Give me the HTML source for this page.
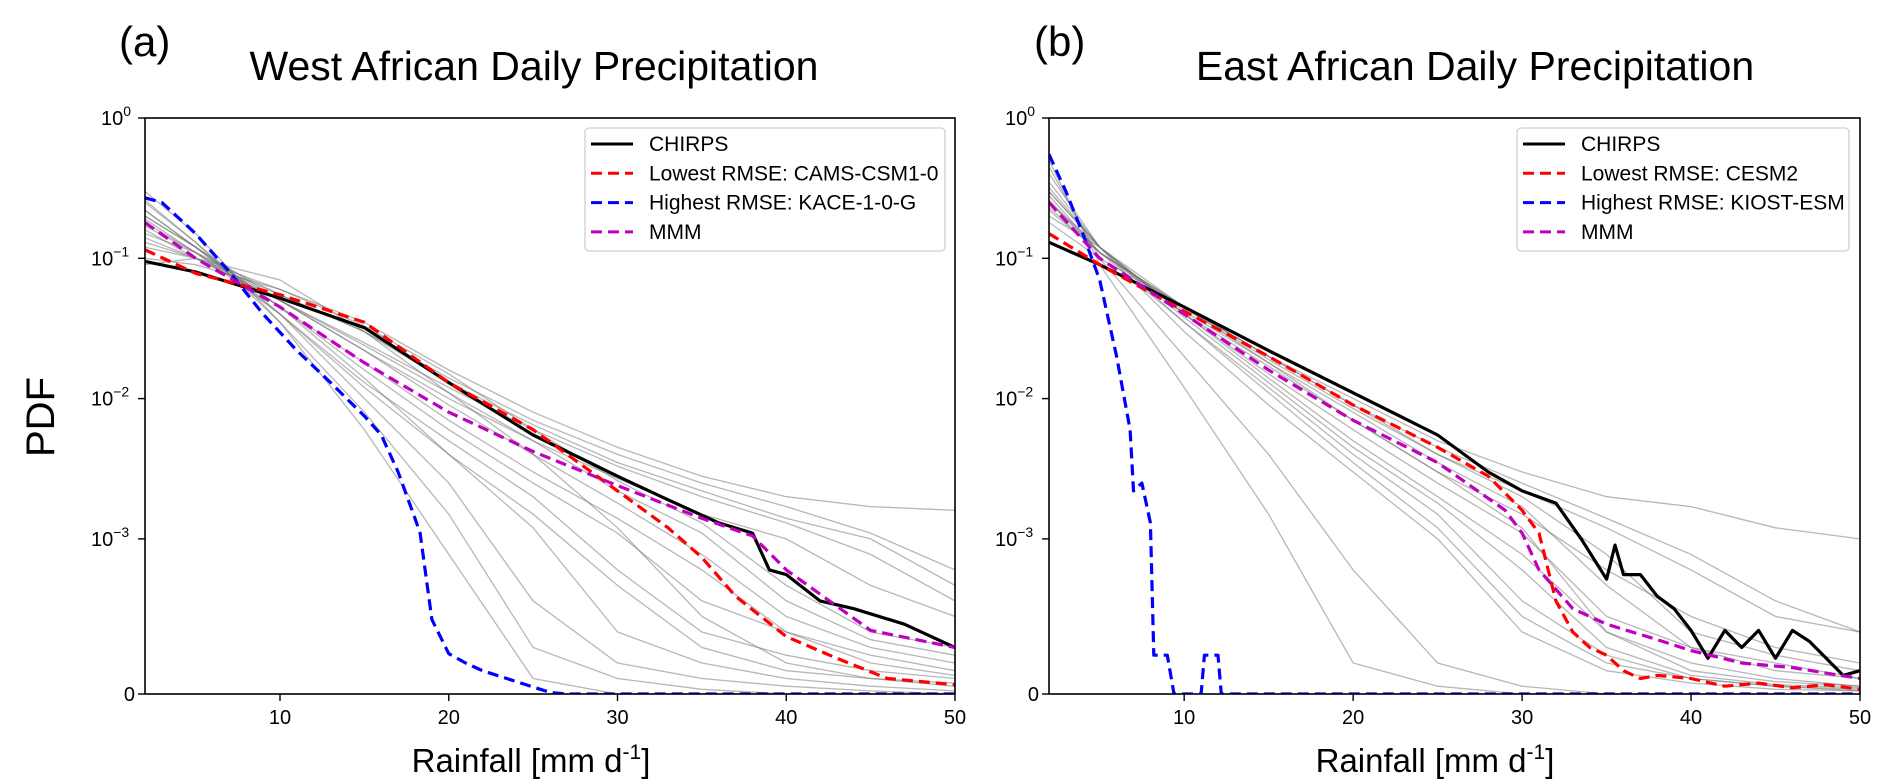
<!DOCTYPE html>
<html><head><meta charset="utf-8"><style>
body{margin:0;background:#fff}
svg{display:block;font-family:"Liberation Sans",sans-serif}
</style></head><body>
<svg id="fig" width="1892" height="782" viewBox="0 0 1892 782">
<defs>
<clipPath id="clipA"><rect x="145" y="118" width="810" height="576"/></clipPath>
<clipPath id="clipB"><rect x="1049" y="118" width="811" height="576"/></clipPath>
</defs>
<text x="119" y="56" font-size="42">(a)</text>
<text x="1034" y="56" font-size="42">(b)</text>
<text x="534" y="80" font-size="41" text-anchor="middle">West African Daily Precipitation</text>
<text x="1475" y="80" font-size="41" text-anchor="middle">East African Daily Precipitation</text>
<text transform="translate(54,417) rotate(-90)" font-size="40" text-anchor="middle">PDF</text>
<text x="531" y="772" font-size="33" text-anchor="middle">Rainfall [mm d<tspan dy="-13" font-size="21">-1</tspan><tspan dy="13">]</tspan></text>
<text x="1435" y="772" font-size="33" text-anchor="middle">Rainfall [mm d<tspan dy="-13" font-size="21">-1</tspan><tspan dy="13">]</tspan></text>
</svg>
<script>
const grayX=[2,5,10,15,20,25,30,35,40,45,50];
const xTicks=[10,20,30,40,50];
const yTickVals=[0,1e-3,1e-2,1e-1,1];
const yTickExp=["","-3","-2","-1","0"];

const chirpsAX=[2,5,10,15,20,25,30,33,36,38,39,40,42,44,47,50];
const chirpsAY=[0.095,0.08,0.052,0.032,0.013,0.0055,0.0028,0.0019,0.0013,0.0011,0.0008,0.00077,0.0006,0.00055,0.00045,0.0003];
const redAX=[2,5,10,15,20,25,30,33,35,37,40,43,46,50];
const redAY=[0.115,0.078,0.055,0.035,0.013,0.006,0.0022,0.0012,0.00088,0.00063,0.00037,0.00023,0.0001,0.00006];
const blueAX=[2,3,5,7,9,11,13,15,16,17,18,18.3,19,20,21,22,24,26,27,50];
const blueAY=[0.27,0.25,0.15,0.08,0.04,0.022,0.013,0.0075,0.0055,0.003,0.0014,0.0011,0.00048,0.00026,0.0002,0.00015,0.00008,0.00001,0,0];
const mmmAX=[2,5,10,15,20,25,30,35,38,40,45,50];
const mmmAY=[0.18,0.1,0.045,0.018,0.008,0.0042,0.0024,0.0014,0.00105,0.0008,0.00041,0.0003];
const grayA=[
[0.13,0.1,0.06,0.035,0.016,0.008,0.0045,0.0028,0.002,0.0017,0.0016],
[0.15,0.11,0.055,0.03,0.014,0.007,0.004,0.0025,0.0017,0.0011,0.0008],
[0.16,0.1,0.05,0.025,0.012,0.006,0.0033,0.002,0.0013,0.0009,0.0006],
[0.2,0.12,0.05,0.022,0.01,0.005,0.0027,0.0015,0.001,0.0007,0.0005],
[0.12,0.1,0.055,0.03,0.013,0.0065,0.0035,0.0022,0.0014,0.001,0.0007],
[0.1,0.09,0.06,0.033,0.015,0.006,0.0026,0.0013,0.0007,0.0004,0.0003],
[0.14,0.1,0.05,0.022,0.009,0.004,0.0018,0.0009,0.0005,0.0003,0.0002],
[0.17,0.11,0.05,0.024,0.011,0.005,0.0022,0.0011,0.0006,0.00035,0.00025],
[0.22,0.12,0.045,0.016,0.006,0.0025,0.0011,0.0006,0.0004,0.00025,0.00015],
[0.25,0.13,0.04,0.013,0.005,0.002,0.0008,0.0004,0.00025,0.00015,0.0001],
[0.18,0.11,0.04,0.012,0.004,0.0015,0.0007,0.0003,0.00015,0.0001,0.00007],
[0.09,0.1,0.07,0.03,0.011,0.004,0.0012,0.0005,0.0002,0.0001,0.00005],
[0.2,0.12,0.045,0.014,0.004,0.0012,0.0004,0.0002,0.0001,0.00005,0.00002],
[0.26,0.13,0.035,0.008,0.0015,0.0003,0.0001,0.00003,0,0,0],
[0.22,0.12,0.04,0.01,0.0025,0.0006,0.0002,0.0001,0.00005,0.00002,0],
[0.3,0.15,0.035,0.006,0.0009,0.0001,0,0,0,0,0],
[0.19,0.11,0.045,0.018,0.007,0.003,0.0014,0.0008,0.0004,0.0002,0.00012]
];

const chirpsBX=[2,5,10,15,20,25,28,30,32,33.5,35,35.5,36,37,38,39,40,41,42,43,44,45,46,47,48,49,50];
const chirpsBY=[0.13,0.09,0.045,0.022,0.011,0.0055,0.003,0.0022,0.0018,0.001,0.00074,0.00096,0.00077,0.00077,0.00063,0.00055,0.00041,0.00023,0.00041,0.0003,0.00041,0.00023,0.00041,0.00034,0.00023,0.00012,0.00015];
const redBX=[2,5,10,15,20,25,28,30,31,32,33,34,35,36,37,38,40,42,44,46,48,50];
const redBY=[0.15,0.09,0.042,0.02,0.009,0.0045,0.0028,0.0016,0.0011,0.0006,0.0004,0.0003,0.00025,0.00015,0.0001,0.00012,0.0001,0.00005,0.00007,0.00004,0.00006,0.00003];
const blueBX=[2,3,4,5,6,6.8,7,7.5,8,8.2,9,9.4,11,11.2,12,12.2,50];
const blueBY=[0.55,0.3,0.15,0.07,0.02,0.006,0.0022,0.0025,0.0013,0.00025,0.00025,0,0,0.00025,0.00025,0,0];
const mmmBX=[2,5,10,15,20,25,29,30,31,33,35,38,40,43,46,50];
const mmmBY=[0.25,0.1,0.04,0.016,0.007,0.0035,0.0016,0.0011,0.0008,0.00055,0.00045,0.00035,0.00028,0.0002,0.00017,0.0001];
const grayB=[
[0.2,0.12,0.045,0.02,0.01,0.005,0.003,0.002,0.0017,0.0012,0.001],
[0.18,0.1,0.045,0.02,0.009,0.004,0.0022,0.0012,0.0008,0.0005,0.0004],
[0.25,0.12,0.04,0.017,0.007,0.003,0.0015,0.0008,0.0005,0.0003,0.0002],
[0.3,0.12,0.04,0.015,0.006,0.0025,0.0011,0.0005,0.0003,0.0002,0.0001],
[0.22,0.11,0.045,0.018,0.007,0.003,0.0012,0.0004,0.0002,0.0001,0.00005],
[0.35,0.12,0.035,0.012,0.004,0.0015,0.0006,0.00025,0.0001,0.00005,0.00003],
[0.4,0.12,0.03,0.009,0.003,0.001,0.0004,0.00015,0.00007,0.00003,0.00002],
[0.28,0.11,0.035,0.011,0.0035,0.0012,0.0005,0.0002,0.0001,0.00005,0.00002],
[0.45,0.1,0.02,0.004,0.0008,0.0002,0.00005,0,0,0,0],
[0.5,0.09,0.012,0.0015,0.0002,0.00005,0,0,0,0,0],
[0.3,0.12,0.04,0.014,0.005,0.002,0.0009,0.0004,0.00015,0.00008,0.00005],
[0.25,0.11,0.045,0.02,0.009,0.0045,0.0025,0.0014,0.0009,0.0006,0.0004],
[0.26,0.11,0.042,0.018,0.008,0.0035,0.0017,0.0007,0.0003,0.00015,0.0001],
[0.32,0.12,0.038,0.013,0.0045,0.0018,0.0008,0.0003,0.00012,0.00006,0.00004],
[0.23,0.11,0.044,0.019,0.0085,0.004,0.002,0.0009,0.0004,0.00025,0.00015]
];

const legendA=["CHIRPS","Lowest RMSE: CAMS-CSM1-0","Highest RMSE: KACE-1-0-G","MMM"];
const legendB=["CHIRPS","Lowest RMSE: CESM2","Highest RMSE: KIOST-ESM","MMM"];

const NS="http://www.w3.org/2000/svg";
const svg=document.getElementById('fig');
const TOP=118, ZERO=694, DEC=140.3, LIN=ZERO-(TOP+3*DEC);
function yScale(v){
  if(v>=1e-3) return TOP+3*DEC-(Math.log10(v)+3)*DEC;
  return ZERO-(v/1e-3)*LIN;
}
function mk(tag,attrs,parent){const e=document.createElementNS(NS,tag);for(const k in attrs)e.setAttribute(k,attrs[k]);(parent||svg).appendChild(e);return e;}

function panel(id,x0,x1,clip,grays,series,legend,legX,legW){
  const xs=v=>x0+(v-2)/48*(x1-x0);
  const g=mk('g',{});
  
  
  const lines=mk('g',{'clip-path':'url(#'+clip+')'},g);
  grays.forEach((arr,i)=>{
    const p=mk('polyline',{points:arr.map((v,j)=>xs(grayX[j]).toFixed(1)+','+yScale(v).toFixed(1)).join(' '),fill:'none',stroke:'#707070','stroke-opacity':0.5,'stroke-width':1.3},lines);
    
    
  });
  series.forEach(s=>{
    const p=mk('polyline',{points:s.x.map((v,j)=>xs(v).toFixed(1)+','+yScale(s.y[j]).toFixed(1)).join(' '),fill:'none',stroke:s.c,'stroke-width':3.2,'stroke-dasharray':s.d||'none','stroke-linejoin':'round'},lines);
    
    
  });
  const fr=mk('rect',{x:x0,y:TOP,width:x1-x0,height:ZERO-TOP,fill:'none',stroke:'#000','stroke-width':1.6},g);
  
  
  xTicks.forEach(t=>{
    const x=xs(t);
    mk('line',{x1:x,x2:x,y1:ZERO,y2:ZERO+7,stroke:'#000','stroke-width':1.4},g);
    const tx=mk('text',{x:x,y:ZERO+30,'font-size':20,'text-anchor':'middle'},g);
    tx.textContent=t;
    
    
  });
  yTickVals.forEach((v,i)=>{
    const y=yScale(v);
    mk('line',{x1:x0-7,x2:x0,y1:y,y2:y,stroke:'#000','stroke-width':1.4},g);
    const tx=mk('text',{x:x0-10,y:y+7,'font-size':20,'text-anchor':'end'},g);
    
    
    if(yTickExp[i]===''){tx.textContent='0';}
    else{
      tx.textContent='10';
      const neg=yTickExp[i][0]==='-';
      const sp=mk('tspan',{dy:-9,'font-size':14},tx);
      sp.textContent=(neg?'\u2212':'')+yTickExp[i].replace('-','');
      tx.setAttribute('text-anchor','start');
      tx.setAttribute('x',x0-8-(neg?46:36));
    }
  });
  const lg=mk('g',{},g);
  
  
  mk('rect',{x:legX,y:128,width:legW,height:123,rx:4,fill:'#fff','fill-opacity':0.85,stroke:'#d0d0d0','stroke-width':1.3},lg);
  series.forEach((s,i)=>{
    const y=144+i*29.3;
    mk('line',{x1:legX+6,x2:legX+48,y1:y,y2:y,stroke:s.c,'stroke-width':3,'stroke-dasharray':s.d||'none'},lg);
    const t=mk('text',{x:legX+64,y:y+7,'font-size':21},lg);
    t.textContent=legend[i];
    
    
  });
}
panel('panel-a',145,955,'clipA',grayA,[
 {n:'chirps-line',x:chirpsAX,y:chirpsAY,c:'#000'},
 {n:'lowest-rmse-line',x:redAX,y:redAY,c:'#ff0000',d:'11,6'},
 {n:'highest-rmse-line',x:blueAX,y:blueAY,c:'#0000ff',d:'11,6'},
 {n:'mmm-line',x:mmmAX,y:mmmAY,c:'#bf00bf',d:'11,6'}],legendA,585,360);
panel('panel-b',1049,1860,'clipB',grayB,[
 {n:'chirps-line',x:chirpsBX,y:chirpsBY,c:'#000'},
 {n:'lowest-rmse-line',x:redBX,y:redBY,c:'#ff0000',d:'11,6'},
 {n:'highest-rmse-line',x:blueBX,y:blueBY,c:'#0000ff',d:'11,6'},
 {n:'mmm-line',x:mmmBX,y:mmmBY,c:'#bf00bf',d:'11,6'}],legendB,1517,332);
</script>
</body></html>
